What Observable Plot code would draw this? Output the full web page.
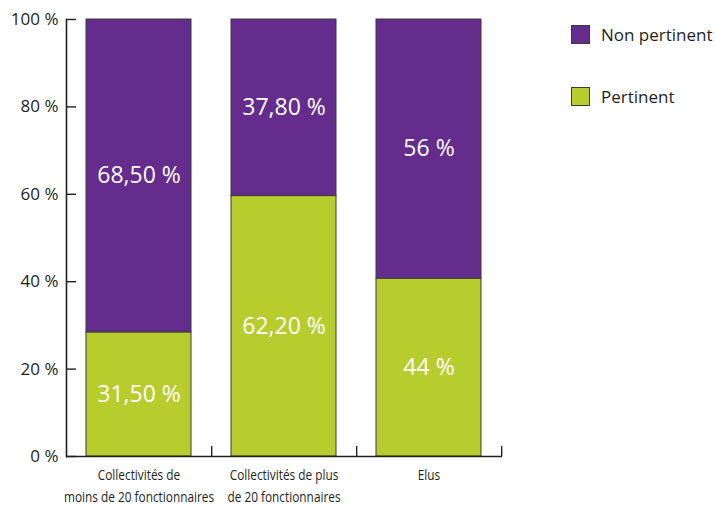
<!DOCTYPE html>
<html>
<head>
<meta charset="utf-8">
<script src="https://cdn.jsdelivr.net/npm/d3@7"></script>
<script src="https://cdn.jsdelivr.net/npm/@observablehq/plot@0.6"></script>
<style>
  body { margin: 0; background: #fff; }
  #wrap { position: relative; width: 715px; height: 506px; font-family: "Open Sans", sans-serif; }
  .legend { position: absolute; left: 571px; color: #231f20; font-size: 17px; display: flex; align-items: center; white-space: nowrap; }
  .legend .sw { width: 19px; height: 19px; border: 1px solid #3a3a3a; margin-right: 11px; box-sizing: border-box; }
</style>
</head>
<body>
<div id="wrap"></div>
<script>
const categories = ["Collectivités de moins de 20 fonctionnaires", "Collectivités de plus de 20 fonctionnaires", "Elus"];
const categoryLabels = ["Collectivités de\nmoins de 20 fonctionnaires", "Collectivités de plus\nde 20 fonctionnaires", "Elus"];
const series = ["Pertinent", "Non pertinent"];
const colors = ["#b7cd2e", "#632c8d"];
// bar heights as drawn in the picture (%)
const pertinent = [28.4, 59.6, 40.7];
const nonPertinent = [71.6, 40.4, 59.3];
// printed value labels
const pertinentLabels = ["31,50 %", "62,20 %", "44 %"];
const nonPertinentLabels = ["68,50 %", "37,80 %", "56 %"];
const yTicks = [0, 20, 40, 60, 80, 100];

const data = [];
categories.forEach((c, i) => {
  data.push({cat: c, serie: series[0], value: pertinent[i], label: pertinentLabels[i]});
  data.push({cat: c, serie: series[1], value: nonPertinent[i], label: nonPertinentLabels[i]});
});

const ink = "#231f20";
const chart = Plot.plot({
  width: 715,
  height: 506,
  marginLeft: 66,
  marginRight: 213,
  marginTop: 19,
  marginBottom: 50,
  style: {fontFamily: "'Open Sans', sans-serif", color: ink, background: "white"},
  x: {domain: categories, paddingInner: 0.275, paddingOuter: 0.1376, label: null},
  y: {domain: [0, 100], label: null},
  color: {domain: series, range: colors},
  marks: [
    Plot.barY(data, {x: "cat", y: "value", fill: "serie", stroke: "#3a3a3a", strokeWidth: 1, order: series}),
    Plot.text(data, Plot.stackY({x: "cat", y: "value", z: "serie", order: series, text: "label", fill: "white", fontSize: 23})),
    Plot.ruleY([0], {stroke: ink, strokeWidth: 1.6}),
    Plot.frame({anchor: "left", stroke: ink, strokeWidth: 1.6}),
    Plot.ruleY(yTicks, {y: d => d, insetRight: 426, stroke: ink, strokeWidth: 1.4}),
    Plot.ruleX(categories, {x: d => d, y1: 0, y2: 2.3, dx: 72.67, stroke: ink, strokeWidth: 1.4}),
    Plot.axisY(yTicks, {tickSize: 0, tickPadding: 8, fontSize: 17, tickFormat: d => d + " %", fill: ink}),
    Plot.axisX(categories, {tickSize: 0, tickPadding: 8, fontSize: 15, lineHeight: 1.45, tickFormat: d => categoryLabels[categories.indexOf(d)], fill: ink})
  ]
});
// condensed look for the category labels
const labelSet = new Set(categoryLabels.flatMap(l => l.split("\n")));
d3.select(chart).selectAll("text").each(function() {
  const txt = Array.from(this.querySelectorAll("tspan")).map(t => t.textContent);
  const lines = txt.length ? txt : [this.textContent];
  if (!lines.every(l => labelSet.has(l))) return;
  const t = this.getAttribute("transform");
  if (t) this.setAttribute("transform", `${t} scale(0.79,1)`);
});
const wrap = document.getElementById("wrap");
wrap.appendChild(chart);
series.slice().reverse().forEach((s, k) => {
  const div = document.createElement("div");
  div.className = "legend";
  div.style.top = (k === 0 ? 23 : 85) + "px";
  const sw = document.createElement("div");
  sw.className = "sw";
  sw.style.background = colors[series.indexOf(s)];
  div.appendChild(sw);
  const t = document.createElement("span");
  t.textContent = s;
  div.appendChild(t);
  wrap.appendChild(div);
});
</script>
</body>
</html>
